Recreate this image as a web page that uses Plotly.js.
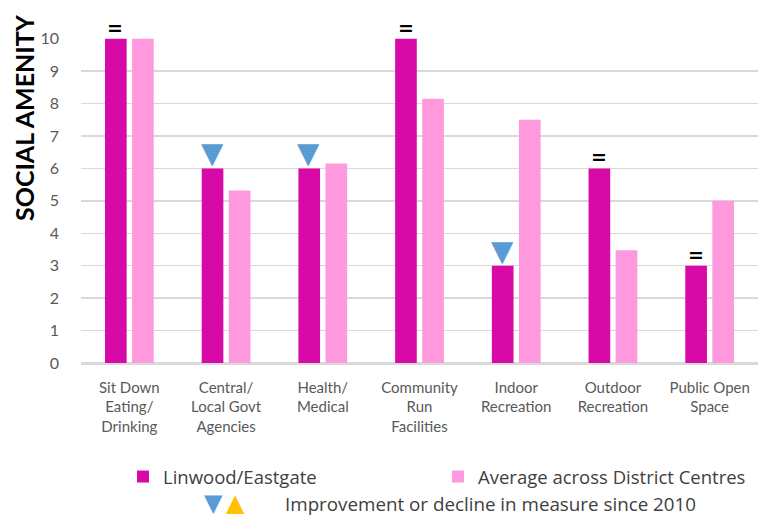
<!DOCTYPE html>
<html><head><meta charset="utf-8">
<script src="https://cdn.plot.ly/plotly-3.0.1.min.js"></script>
<style>html,body{margin:0;padding:0;background:#fff}</style>
</head><body><div id="chart" style="width:759px;height:517px"></div>
<script>
const categories = ["Sit Down<br>Eating/<br>Drinking", "Central/<br>Local Govt<br>Agencies", "Health/<br>Medical", "Community<br>Run<br>Facilities", "Indoor<br>Recreation", "Outdoor<br>Recreation", "Public Open<br>Space"];
const linwood = [10, 6, 6, 10, 3, 6, 3];
const average = [10, 5.32, 6.15, 8.15, 7.5, 3.48, 5.0];
const change = ["=", "down", "down", "=", "down", "=", "="];
const seriesNames = ["Linwood/Eastgate", "Average across District Centres"];
const yTitle = "SOCIAL AMENITY";
const changeNote = "Improvement or decline in measure since 2010";

const DARK = '#D70AA7', LIGHT = '#FF99DD', BLUE = '#5B9BD5', ORANGE = '#FFC000';
const TXT = '#404040', TICK = '#595959', GRID = '#D9D9D9';

// plot area in pixels (for placing paper-referenced notes)
const PL = 81, PW = 677, PT = 38, PH = 325;
const px = v => (v - PL) / PW;
const py = v => (PT + PH - v) / PH;

const traces = [
  {type: 'bar', name: seriesNames[0], x: categories, y: linwood, marker: {color: DARK}},
  {type: 'bar', name: seriesNames[1], x: categories, y: average, marker: {color: LIGHT}}
];

const annotations = [];
categories.forEach((c, i) => {
  if (change[i] === '=') {
    annotations.push({x: c, y: linwood[i], xref: 'x', yref: 'y', text: '<b>=</b>', showarrow: false,
      xshift: -14, yanchor: 'bottom', yshift: -2, font: {family: 'DejaVu Sans', size: 19, color: '#000'}});
  } else {
    annotations.push({x: c, y: linwood[i], xref: 'x', yref: 'y', text: '▼', showarrow: false,
      xshift: -14, yanchor: 'bottom', yshift: -4, font: {family: 'DejaVu Sans', size: 29, color: BLUE}});
  }
});
annotations.push({xref: 'paper', yref: 'paper', x: px(24), y: py(118), text: '<b>' + yTitle + '</b>', textangle: -90,
  showarrow: false, xanchor: 'center', yanchor: 'middle', font: {family: 'Lato', size: 25, color: '#000'}});
annotations.push({xref: 'paper', yref: 'paper', x: px(213), y: py(503), text: '▼', showarrow: false,
  xanchor: 'center', yanchor: 'middle', font: {family: 'DejaVu Sans', size: 24, color: BLUE}});
annotations.push({xref: 'paper', yref: 'paper', x: px(235), y: py(503), text: '▲', showarrow: false,
  xanchor: 'center', yanchor: 'middle', font: {family: 'DejaVu Sans', size: 24, color: ORANGE}});
annotations.push({xref: 'paper', yref: 'paper', x: px(283), y: py(504), text: changeNote, showarrow: false,
  xanchor: 'left', yanchor: 'middle', font: {family: 'Open Sans', size: 18.8, color: TXT}});

const layout = {
  width: 759, height: 517,
  margin: {l: PL, r: 759 - PL - PW, t: PT, b: 517 - PT - PH},
  paper_bgcolor: '#fff', plot_bgcolor: '#fff',
  font: {family: 'Lato', color: TXT},
  barmode: 'group', bargap: 0.44, bargroupgap: 0.2,
  xaxis: {type: 'category', showgrid: false, showline: true, linecolor: GRID, linewidth: 1.5,
    ticks: '', ticklabelstandoff: 10, tickfont: {family: 'Lato', size: 15, color: TICK}},
  yaxis: {range: [0, 10.02], dtick: 1, showgrid: true, gridcolor: GRID, gridwidth: 1.5,
    zeroline: true, zerolinecolor: GRID, zerolinewidth: 1.5, ticks: '', ticklabelstandoff: 21,
    tickfont: {family: 'Lato', size: 16, color: TICK}},
  showlegend: true,
  legend: {orientation: 'h', xref: 'container', yref: 'container', x: 123/759, y: (517-477)/517,
    xanchor: 'left', yanchor: 'middle', entrywidth: 270, itemwidth: 30, tracegroupgap: 0,
    font: {family: 'Open Sans', size: 18.5, color: TXT}, bgcolor: 'rgba(0,0,0,0)'},
  annotations: annotations
};

Plotly.newPlot('chart', traces, layout, {displayModeBar: false, staticPlot: true});
</script></body></html>
